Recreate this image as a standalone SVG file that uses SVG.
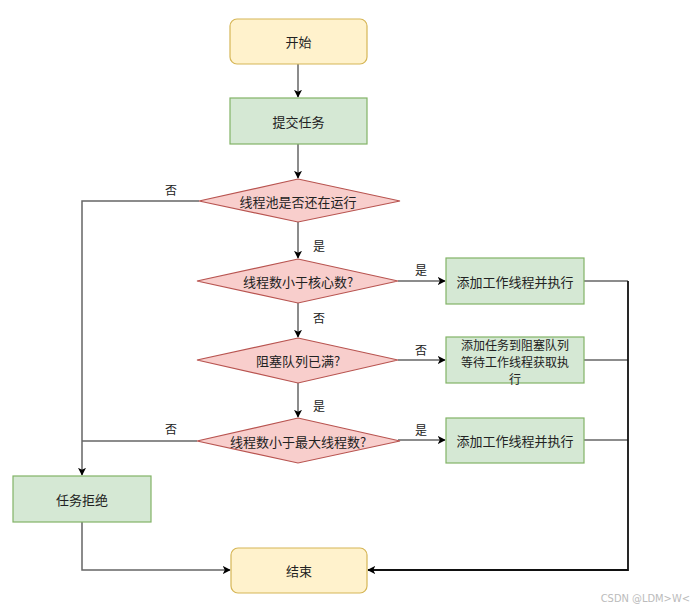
<svg xmlns="http://www.w3.org/2000/svg" width="698" height="611" viewBox="0 0 698 611">
<style>
text{font-family:"Noto Sans CJK SC","Liberation Sans",sans-serif;font-size:13px;fill:#222;text-anchor:middle;dominant-baseline:central}
.term{fill:#fff2cc;stroke:#d6b656;stroke-width:1.2}
.proc{fill:#d5e8d4;stroke:#82b366;stroke-width:1.2}
.dec{fill:#f8cecc;stroke:#b85450;stroke-width:1.2}
.ln{fill:none;stroke:#666;stroke-width:1.5}
.ln2{fill:none;stroke:#111;stroke-width:1.8}
.lbl{font-size:12px}
.q{font-size:12px}
.wm{font-family:"DejaVu Sans Condensed","Liberation Sans",sans-serif;font-size:11px;fill:#bbb;text-anchor:end}
</style>
<defs>
<marker id="ah" viewBox="0 0 10 10" refX="9" refY="5" markerWidth="8" markerHeight="8" markerUnits="userSpaceOnUse" orient="auto">
<path d="M0,0 L10,5 L0,10 L2.5,5 z" fill="#000"/>
</marker>
</defs>
<rect width="698" height="611" fill="#fff"/>
<g id="connectors">
<path class="ln" d="M298,64 V97" marker-end="url(#ah)"/>
<path class="ln" d="M298,144 V178" marker-end="url(#ah)"/>
<path class="ln" d="M298,222 V258" marker-end="url(#ah)"/>
<path class="ln" d="M298,303 V337" marker-end="url(#ah)"/>
<path class="ln" d="M298,383 V417" marker-end="url(#ah)"/>
<path class="ln" d="M398,281 H445" marker-end="url(#ah)"/>
<path class="ln" d="M398,360 H445" marker-end="url(#ah)"/>
<path class="ln" d="M398,440 H445" marker-end="url(#ah)"/>
<path class="ln" d="M199,201 H82 V475" marker-end="url(#ah)"/>
<path class="ln" d="M197,441 H82"/>
<path class="ln" d="M82,522 V570 H230" marker-end="url(#ah)"/>
<path class="ln" d="M584,281 H628"/>
<path class="ln" d="M584,360 H628"/>
<path class="ln" d="M584,440 H628"/>
<path class="ln2" d="M628,281 V570 H368" marker-end="url(#ah)"/>
<text class="lbl" x="171" y="189">否</text>
<text class="lbl" x="319" y="245">是</text>
<text class="lbl" x="421" y="269">是</text>
<text class="lbl" x="319" y="317">否</text>
<text class="lbl" x="421" y="349">否</text>
<text class="lbl" x="319" y="405">是</text>
<text class="lbl" x="421" y="429">是</text>
<text class="lbl" x="171" y="428">否</text>
</g>
<g id="start"><rect class="term" x="230" y="19" width="137" height="45" rx="7"/><text x="298.5" y="41.5">开始</text></g>
<g id="submit"><rect class="proc" x="230" y="98" width="137" height="46"/><text x="298.5" y="121">提交任务</text></g>
<g id="d1"><polygon class="dec" points="298,179 400,201 298,222 199,201"/><text x="298" y="201">线程池是否还在运行</text></g>
<g id="d2"><polygon class="dec" points="298,259 398,281 298,303 197,281"/><text x="298" y="281">线程数小于核心数?</text></g>
<g id="d3"><polygon class="dec" points="298,338 398,360 298,383 197,360"/><text x="298" y="360">阻塞队列已满?</text></g>
<g id="d4"><polygon class="dec" points="298,418 400,441 298,463 197,441"/><text x="298" y="441">线程数小于最大线程数?</text></g>
<g id="add1"><rect class="proc" x="446" y="258" width="138" height="46"/><text x="515" y="281">添加工作线程并执行</text></g>
<g id="queue"><rect class="proc" x="446" y="337" width="138" height="46"/><text class="q" x="515" y="344">添加任务到阻塞队列</text><text class="q" x="515" y="361">等待工作线程获取执</text><text class="q" x="515" y="378">行</text></g>
<g id="add2"><rect class="proc" x="446" y="418" width="138" height="45"/><text x="515" y="440.5">添加工作线程并执行</text></g>
<g id="reject"><rect class="proc" x="13" y="476" width="138" height="46"/><text x="82" y="499">任务拒绝</text></g>
<g id="end"><rect class="term" x="231" y="548" width="136" height="45" rx="7"/><text x="299" y="570.5">结束</text></g>
<text class="wm" x="690" y="598">CSDN @LDM&gt;W&lt;</text>
</svg>
